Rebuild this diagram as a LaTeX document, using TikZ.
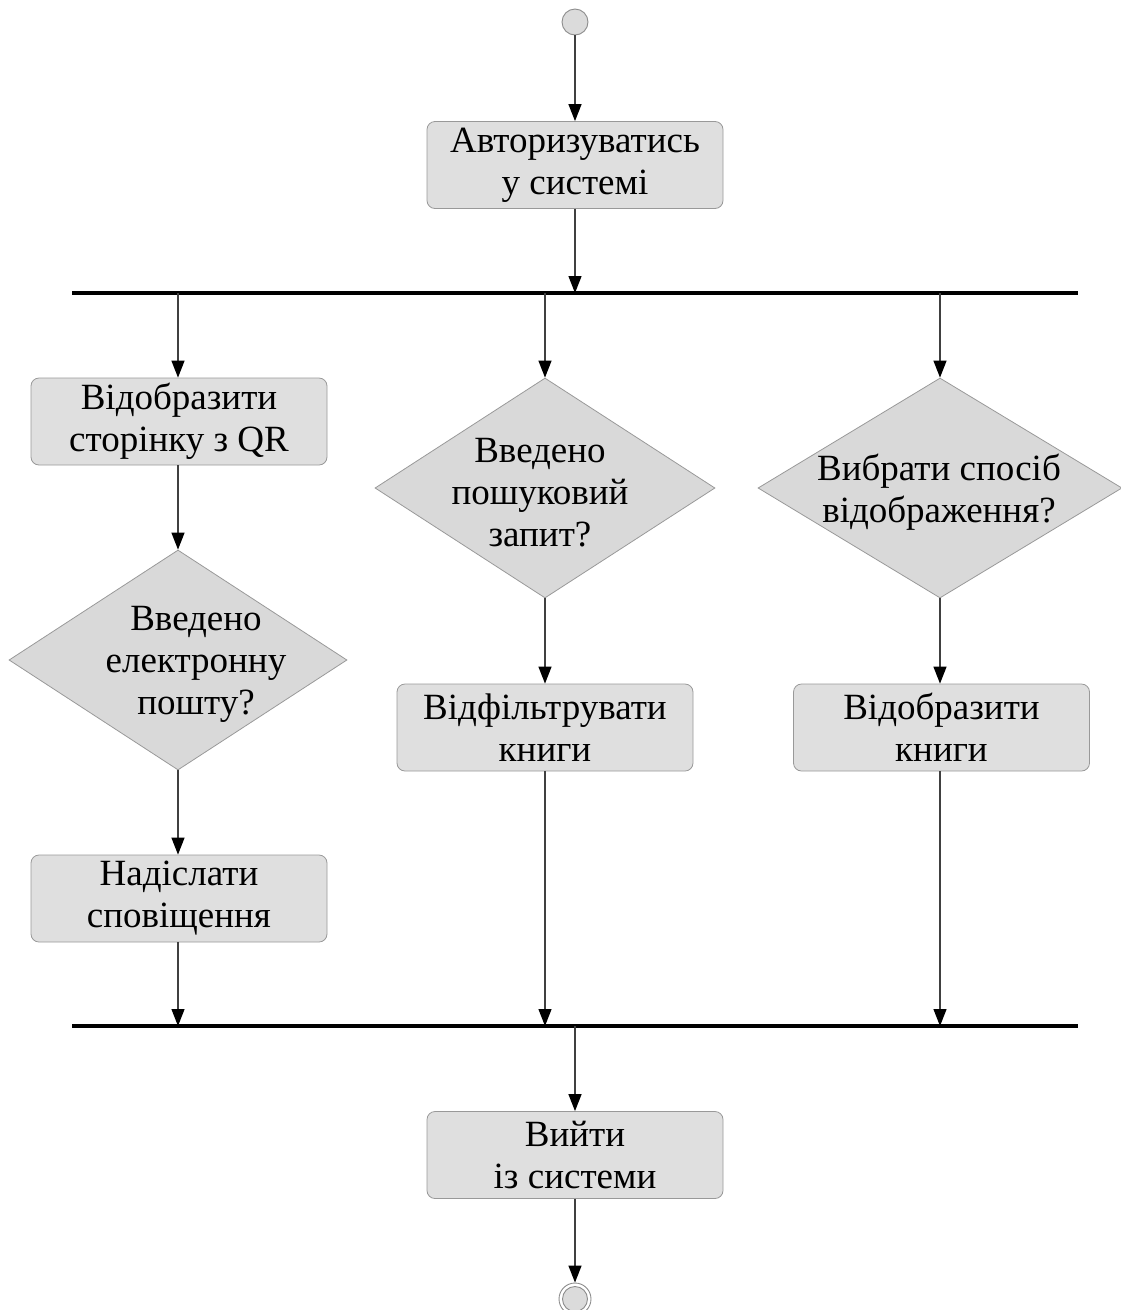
\documentclass[tikz,border=0pt]{standalone}
\usepackage{fontspec}
\setmainfont{Liberation Serif}
\usetikzlibrary{arrows.meta,shapes.geometric}
\begin{document}
\begin{tikzpicture}[x=1pt,y=-1pt,
  every node/.style={font=\fontsize{37}{42}\selectfont},
  act/.style={draw=black!40, fill=gray!25, rounded corners=8pt,
    minimum width=296pt, minimum height=87pt, align=center, inner sep=0pt, line width=0.8pt},
  dec/.style={draw=black!40, fill=gray!30, diamond, inner sep=0pt, line width=0.8pt},
  lbl/.style={align=center, inner sep=0pt},
  flow/.style={draw=black!75, line width=1.3pt,
    -{Triangle[width=13pt,length=17pt,color=black,fill=black]}},
  bar/.style={line width=4pt, black},
  initial/.style={circle, draw=black!45, fill=gray!28, line width=0.9pt, minimum size=26pt, inner sep=0pt},
  final/.style={circle, draw=black!45, fill=white, line width=0.9pt, minimum size=32pt, inner sep=0pt}
]
\useasboundingbox (0,0) rectangle (1121,1310);

% initial state
\node[initial] (start) at (575,22) {};

% login
\node[act] (login) at (575,165) {Авторизуватись\\у системі};

% fork bar
\coordinate (forkL) at (72,293);
\coordinate (forkR) at (1078,293);
\coordinate (forkIn) at (575,293);
\coordinate (forkA) at (178,293);
\coordinate (forkB) at (545,293);
\coordinate (forkC) at (940,293);
\draw[bar] (forkL) -- (forkR);

% left branch
\node[act] (qr) at (179,421.5) {Відобразити\\сторінку з QR};
\node[dec, minimum width=338pt, minimum height=220pt] (email) at (178,660) {};
\node[lbl] (emailtxt) at (196,664) {Введено\\електронну\\пошту?};
\node[act] (notify) at (179,898.5) {Надіслати\\сповіщення};

% middle branch
\node[dec, minimum width=340pt, minimum height=220pt] (search) at (545,488) {};
\node[lbl] (searchtxt) at (540,493) {Введено\\пошуковий\\запит?};
\node[act] (filter) at (545,727.5) {Відфільтрувати\\книги};

% right branch
\node[dec, minimum width=364pt, minimum height=220pt] (view) at (940,488) {};
\node[lbl] (viewtxt) at (939,492) {Вибрати спосіб\\відображення?};
\node[act] (show) at (941.5,727.5) {Відобразити\\книги};

% join bar
\coordinate (joinL) at (72,1026);
\coordinate (joinR) at (1078,1026);
\coordinate (joinA) at (178,1026);
\coordinate (joinB) at (545,1026);
\coordinate (joinC) at (940,1026);
\coordinate (joinOut) at (575,1026);
\draw[bar] (joinL) -- (joinR);

% logout
\node[act] (logout) at (575,1155) {Вийти\\із системи};

% final state
\node[final] (stop) at (575,1299) {};
\node[circle, draw=black!45, fill=gray!28, line width=0.9pt, minimum size=25pt, inner sep=0pt] (stopcore) at (stop.center) {};

% connectors
\draw[flow] (start) -- (login);
\draw[flow] (login) -- (forkIn);
\draw[flow] (forkA) -- (qr.north -| forkA);
\draw[flow] (forkB) -- (search.north);
\draw[flow] (forkC) -- (view.north);
\draw[flow] (qr.south -| email.north) -- (email.north);
\draw[flow] (email.south) -- (notify.north -| email.south);
\draw[flow] (notify.south -| joinA) -- (joinA);
\draw[flow] (search.south) -- (filter.north);
\draw[flow] (filter.south) -- (joinB);
\draw[flow] (view.south) -- (show.north -| view.south);
\draw[flow] (show.south -| joinC) -- (joinC);
\draw[flow] (joinOut) -- (logout);
\draw[flow] (logout) -- (stop);
\end{tikzpicture}
\end{document}
